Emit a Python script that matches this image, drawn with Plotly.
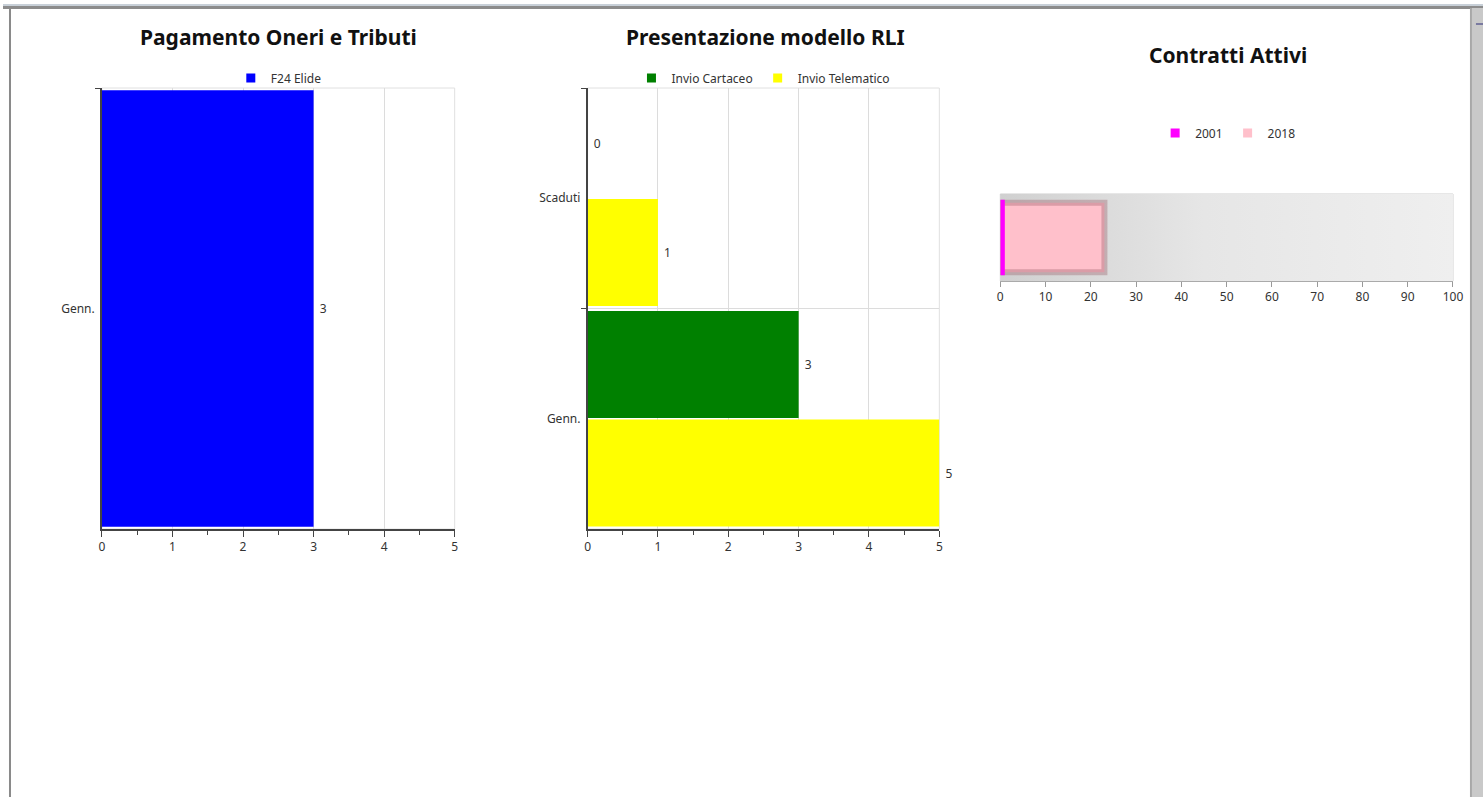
import base64
import plotly.graph_objects as go

H = 797
FIG_W = 1495          # figure width in CSS px
SCALE, OFFSET = 0.992, 2.0   # horizontal page-to-screen mapping
FONT = "Noto Sans"

# Pagamento Oneri e Tributi
pag_categories = ["Genn."]
pag_f24_elide = [3]

# Presentazione modello RLI
rli_categories = ["Scaduti", "Genn."]
rli_cartaceo = [0, 3]
rli_telematico = [1, 5]

# Contratti Attivi
contratti_category = ["Contratti"]
contratti_2001 = [1]
contratti_2018 = [23]

pag_ticks = [0, 1, 2, 3, 4, 5]
rli_ticks = [0, 1, 2, 3, 4, 5]
contratti_ticks = [0, 10, 20, 30, 40, 50, 60, 70, 80, 90, 100]


def px(x):
    """Screen x (px) -> paper fraction."""
    return max(0.0, (x - OFFSET) / SCALE / FIG_W)


def py(y):
    """Screen y (px from top) -> paper fraction."""
    return 1 - y / H


BLUE, GREEN, YELLOW = "#0000ff", "#008000", "#ffff00"
MAGENTA, PINK = "#ff00ff", "#ffc0cb"
value_font = dict(size=12, color="#333", family=FONT)

fig = go.Figure()

# --- bars -------------------------------------------------------------------
fig.add_trace(go.Bar(
    y=pag_categories, x=pag_f24_elide, orientation="h", name="F24 Elide",
    marker=dict(color=BLUE, line=dict(width=0)), width=0.99,
    texttemplate="\u00a0%{x}", textposition="outside", cliponaxis=False,
    textfont=value_font, showlegend=False, xaxis="x", yaxis="y",
))
fig.add_trace(go.Bar(
    y=rli_categories, x=rli_cartaceo, orientation="h", name="Invio Cartaceo",
    marker=dict(color=GREEN, line=dict(width=0)),
    texttemplate="\u00a0%{x}", textposition="outside", cliponaxis=False,
    textfont=value_font, showlegend=False, xaxis="x2", yaxis="y2",
))
fig.add_trace(go.Bar(
    y=rli_categories, x=rli_telematico, orientation="h", name="Invio Telematico",
    marker=dict(color=YELLOW, line=dict(width=0)),
    texttemplate="\u00a0%{x}", textposition="outside", cliponaxis=False,
    textfont=value_font, showlegend=False, xaxis="x2", yaxis="y2",
))
# 2018 underneath, 2001 drawn on top of it
fig.add_trace(go.Bar(
    y=contratti_category, x=contratti_2018, orientation="h", name="2018",
    marker=dict(color=PINK, line=dict(color="rgba(150,90,100,0.35)", width=6)),
    width=0.80, offset=-0.40, showlegend=False, xaxis="x3", yaxis="y3",
))
fig.add_trace(go.Bar(
    y=contratti_category, x=contratti_2001, orientation="h", name="2001",
    marker=dict(color=MAGENTA, line=dict(width=0)),
    width=0.87, offset=-0.435, showlegend=False, xaxis="x3", yaxis="y3",
))


# --- legend entries (small square swatches) ----------------------------------
def swatch(name, color, legend, xa, ya):
    fig.add_trace(go.Scatter(
        x=[None], y=[None], mode="markers", name=name,
        marker=dict(symbol="square", size=9, color=color),
        legend=legend, xaxis=xa, yaxis=ya, hoverinfo="skip",
    ))


swatch("F24 Elide", BLUE, "legend", "x", "y")
swatch("Invio Cartaceo", GREEN, "legend2", "x2", "y2")
swatch("Invio Telematico", YELLOW, "legend2", "x2", "y2")
swatch("2001", MAGENTA, "legend3", "x3", "y3")
swatch("2018", PINK, "legend3", "x3", "y3")

# --- axes ---------------------------------------------------------------------
tickfont = dict(size=12, color="#333", family=FONT)


def value_axis(domain, anchor, ticks):
    return dict(
        domain=domain, anchor=anchor, range=[ticks[0], ticks[-1]],
        tickvals=ticks, ticks="outside", ticklen=6, tickcolor="#444",
        showline=True, linecolor="#444", linewidth=1.5,
        showgrid=True, gridcolor="#dcdcdc", zeroline=False,
        minor=dict(dtick=0.5, ticks="outside", ticklen=4, tickcolor="#444", showgrid=False),
        tickfont=tickfont, fixedrange=True,
    )


def category_axis(domain, anchor, grid):
    return dict(
        domain=domain, anchor=anchor, type="category",
        tickson="boundaries", ticks="outside", ticklen=5, tickcolor="#444",
        showline=True, linecolor="#444", linewidth=1.5,
        showgrid=grid, gridcolor="#dcdcdc", zeroline=False,
        tickfont=tickfont, ticklabelstandoff=3, autorange="reversed",
        fixedrange=True,
    )


plot_y = [py(529), py(88)]
fig.update_layout(
    xaxis=value_axis([px(101), px(454)], "y", pag_ticks),
    yaxis=category_axis(plot_y, "x", False),
    xaxis2=value_axis([px(587), px(939)], "y2", rli_ticks),
    yaxis2=category_axis(plot_y, "x2", True),
    xaxis3=dict(
        domain=[px(1000), px(1453)], anchor="y3", range=[0, 100],
        tickvals=contratti_ticks, ticks="outside", ticklen=5, tickcolor="#999",
        showline=True, linecolor="#aaa", linewidth=1, showgrid=False,
        zeroline=False, tickfont=tickfont, fixedrange=True,
    ),
    yaxis3=dict(
        domain=[py(281), py(194)], anchor="x3", type="category",
        showticklabels=False, ticks="", showgrid=False, zeroline=False,
        showline=False, fixedrange=True,
    ),
)

# --- legends ------------------------------------------------------------------
legend_style = dict(
    orientation="h", xanchor="center", yanchor="middle",
    font=dict(size=12, color="#333", family=FONT),
    bgcolor="rgba(0,0,0,0)", itemwidth=30, itemclick=False, itemdoubleclick=False,
)
fig.update_layout(
    legend=dict(x=px(278), y=py(78), **legend_style),
    legend2=dict(x=px(763), y=py(78), **legend_style),
    legend3=dict(x=px(1228), y=py(133), **legend_style),
)

# --- titles -------------------------------------------------------------------
title_font = dict(size=21, color="#111", family=FONT, weight="bold")
for text, x, y in [
    ("Pagamento Oneri e Tributi", 278, 37),
    ("Presentazione modello RLI", 765, 37),
    ("Contratti Attivi", 1228, 55),
]:
    fig.add_annotation(
        text=text, x=px(x), y=py(y), xref="paper", yref="paper",
        xanchor="center", yanchor="middle", showarrow=False, font=title_font,
    )

# --- plot frames --------------------------------------------------------------
shapes = []
for xr, yr, col in [("x domain", "y domain", "#e0e0e0"),
                    ("x2 domain", "y2 domain", "#e0e0e0"),
                    ("x3 domain", "y3 domain", "#cfcfcf")]:
    shapes.append(dict(type="rect", xref=xr, yref=yr, x0=0, x1=1, y0=0, y1=1,
                       line=dict(color=col, width=1), layer="below"))

# page chrome: top rule, left rule, right scrollbar
shapes += [
    dict(type="rect", xref="paper", yref="paper", x0=0, x1=1, y0=py(6), y1=py(4),
         fillcolor="#c8d0d8", line=dict(width=0)),
    dict(type="rect", xref="paper", yref="paper", x0=0, x1=1, y0=py(9), y1=py(6),
         fillcolor="#8c8c8c", line=dict(width=0)),
    dict(type="rect", xref="paper", yref="paper", x0=px(8), x1=px(10), y0=0, y1=py(9),
         fillcolor="#8a8a8a", line=dict(width=0)),
    dict(type="rect", xref="paper", yref="paper", x0=px(1470), x1=px(1472), y0=0, y1=py(8),
         fillcolor="#a8a8a8", line=dict(width=0)),
    dict(type="rect", xref="paper", yref="paper", x0=px(1472), x1=1, y0=0, y1=py(8),
         fillcolor="#c9c9c9", line=dict(width=0)),
    dict(type="rect", xref="paper", yref="paper", x0=px(1476), x1=1, y0=py(25), y1=py(23),
         fillcolor="#7a7aa0", line=dict(width=0)),
]
fig.update_layout(shapes=shapes)

# shaded background of the Contratti Attivi plot area
svg = (
    "<svg xmlns='http://www.w3.org/2000/svg' width='200' height='20' "
    "viewBox='0 0 200 20' preserveAspectRatio='none'>"
    "<defs><linearGradient id='g' x1='0' x2='1' y1='0' y2='0'>"
    "<stop offset='0' stop-color='#d0d0d0'/>"
    "<stop offset='0.45' stop-color='#e6e6e6'/>"
    "<stop offset='1' stop-color='#efefef'/>"
    "</linearGradient></defs>"
    "<rect width='200' height='20' fill='url(#g)'/></svg>"
)
fig.add_layout_image(
    source="data:image/svg+xml;base64," + base64.b64encode(svg.encode()).decode(),
    xref="x3 domain", yref="y3 domain", x=0, y=1, sizex=1, sizey=1,
    xanchor="left", yanchor="top", sizing="stretch", layer="below",
)

fig.update_layout(
    width=FIG_W, height=H, margin=dict(l=0, r=0, t=0, b=0),
    paper_bgcolor="white", plot_bgcolor="white",
    barmode="group", bargap=0.015, bargroupgap=0.015,
    font=dict(family=FONT, color="#333"),
    hovermode=False,
)

fig.write_html(
    "out.html",
    config={"displayModeBar": False, "responsive": False},
    post_script="document.body.style.margin='0';document.body.style.overflow='hidden';",
)
